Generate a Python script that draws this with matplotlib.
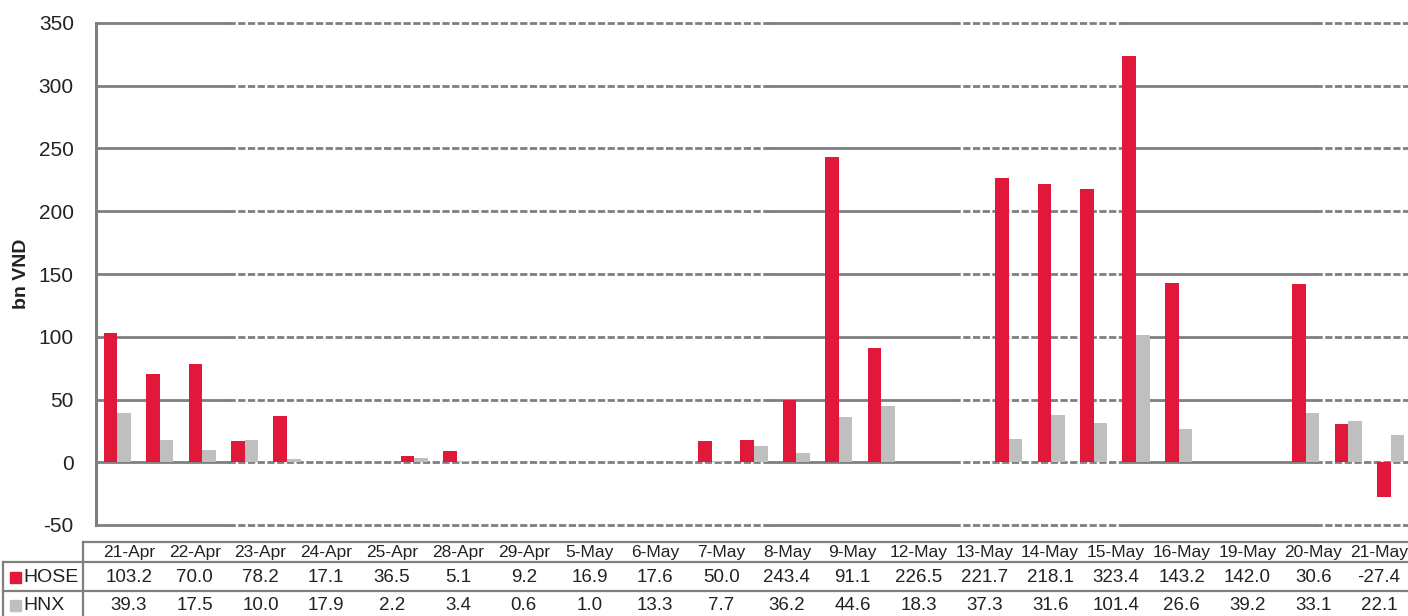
import numpy as np
import matplotlib
matplotlib.use("Agg")
import matplotlib.pyplot as plt
from matplotlib.patches import Rectangle
from matplotlib.lines import Line2D
from matplotlib.transforms import blended_transform_factory

# trading days shown in the table (year 2014)
dates = ["21-Apr", "22-Apr", "23-Apr", "24-Apr", "25-Apr", "28-Apr", "29-Apr",
         "5-May", "6-May", "7-May", "8-May", "9-May", "12-May", "13-May",
         "14-May", "15-May", "16-May", "19-May", "20-May", "21-May"]
hose = [103.2, 70.0, 78.2, 17.1, 36.5, 5.1, 9.2, 16.9, 17.6, 50.0,
        243.4, 91.1, 226.5, 221.7, 218.1, 323.4, 143.2, 142.0, 30.6, -27.4]
hnx = [39.3, 17.5, 10.0, 17.9, 2.2, 3.4, 0.6, 1.0, 13.3, 7.7,
       36.2, 44.6, 18.3, 37.3, 31.6, 101.4, 26.6, 39.2, 33.1, 22.1]
yticks = [-50, 0, 50, 100, 150, 200, 250, 300, 350]

RED = "#e2183a"
GREY = "#bfbfbf"
LINE = "#7f7f7f"
TXT = "#222222"

plt.rcParams["font.family"] = ["Liberation Sans", "DejaVu Sans"]
plt.rcParams["axes.unicode_minus"] = False

W, H = 1408, 616


def fx(px):
    return px / W


def fy(py):
    return 1 - py / H


# bars sit on a calendar axis (one slot per day), the table does not
month_no = {"Apr": "04", "May": "05"}
days = np.array([np.datetime64(f"2014-{month_no[d.split('-')[1]]}-{int(d.split('-')[0]):02d}") for d in dates])
xpos = (days - days[0]).astype(int)
nslots = int(xpos[-1]) + 1

fig = plt.figure(figsize=(W / 100, H / 100), dpi=100)
ax = fig.add_axes([fx(96), fy(525), fx(1316), (525 - 23) / H])

bw = 0.32
ax.bar(xpos - bw / 2, hose, bw, color=RED, zorder=3)
ax.bar(xpos + bw / 2, hnx, bw, color=GREY, zorder=3)

# gridlines: part solid, part dashed like the source image
solid = [(0.0, 0.1003), (0.512, 0.651), (0.782, 0.926)]
dashed = [(0.1003, 0.512), (0.651, 0.782), (0.926, 1.0)]
for y in yticks:
    for a, b in solid:
        ax.axhline(y, a, b, color=LINE, lw=2.0, zorder=1, clip_on=False)
    for a, b in dashed:
        ax.axhline(y, a, b, color=LINE, lw=2.0, ls=(0, (2.6, 0.9)), zorder=1, clip_on=False)

ax.set_xlim(-0.5, nslots - 0.5)
ax.set_ylim(-50, 350)
ax.set_xticks([])
ax.set_yticks(yticks)
ax.tick_params(axis="y", length=0, pad=16, labelsize=15, labelcolor=TXT)
for s in ["top", "right", "bottom"]:
    ax.spines[s].set_visible(False)
ax.spines["left"].set_color(LINE)
ax.spines["left"].set_linewidth(2.2)

fig.text(fx(22), fy(274), "bn VND", rotation=90, ha="center", va="center",
         fontsize=14, fontweight="bold", color=TXT)

# data table under the chart
tr = blended_transform_factory(ax.transAxes, fig.transFigure)
ncol = len(dates)
for i in range(ncol):
    xc = (i + 0.5) / ncol
    fig.text(xc, fy(553), dates[i], transform=tr, ha="center", va="center", fontsize=12.5, color=TXT)
    fig.text(xc, fy(577), f"{hose[i]:.1f}", transform=tr, ha="center", va="center", fontsize=13.5, color=TXT)
    fig.text(xc, fy(605), f"{hnx[i]:.1f}", transform=tr, ha="center", va="center", fontsize=13.5, color=TXT)

def hline(x0, x1, y):
    fig.add_artist(Line2D([fx(x0), fx(x1)], [fy(y), fy(y)], color=LINE, lw=1.6))

def vline(x, y0, y1):
    fig.add_artist(Line2D([fx(x), fx(x)], [fy(y0), fy(y1)], color=LINE, lw=1.6))

hline(83, W, 542)
hline(3, W, 562)
hline(3, W, 591)
vline(83, 542, H)
vline(3, 562, H)

fig.add_artist(Rectangle((fx(10), fy(583)), fx(11), 11 / H, color=RED, transform=fig.transFigure))
fig.add_artist(Rectangle((fx(10), fy(611)), fx(11), 11 / H, color=GREY, transform=fig.transFigure))
fig.text(fx(23), fy(577), "HOSE", ha="left", va="center", fontsize=14, color=TXT)
fig.text(fx(23), fy(605), "HNX", ha="left", va="center", fontsize=14, color=TXT)

fig.savefig("out.png", dpi=100)
